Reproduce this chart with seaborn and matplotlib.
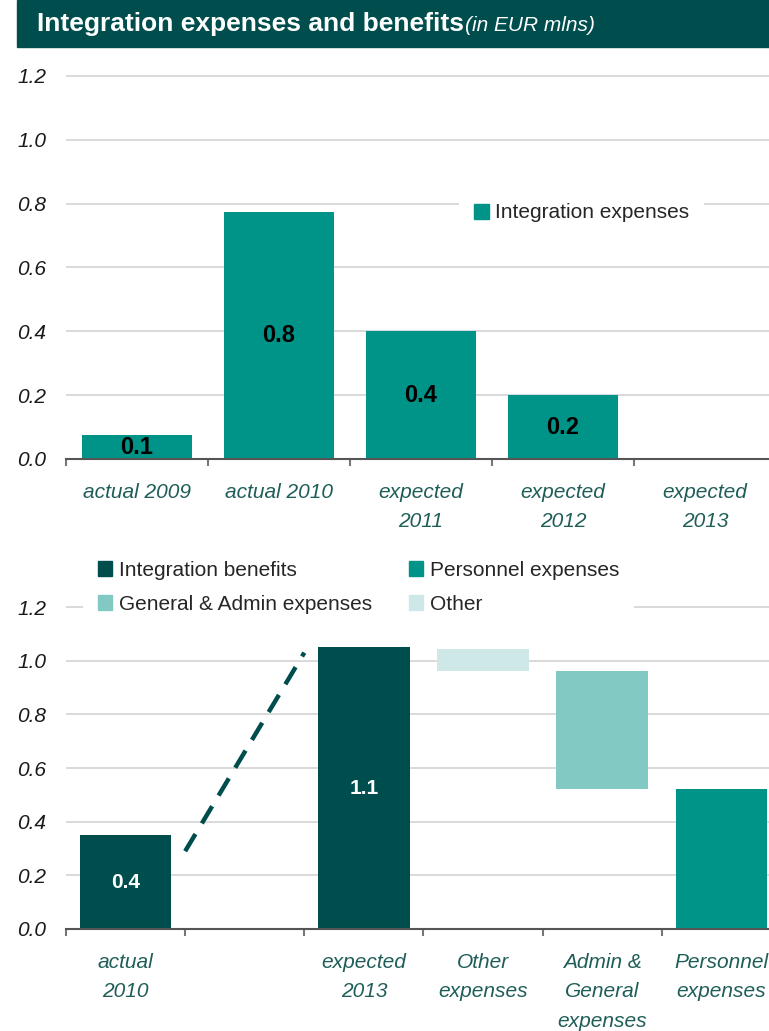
import numpy as np
import matplotlib
matplotlib.use("Agg")
import matplotlib.pyplot as plt
import matplotlib.patches as mpatches
import seaborn as sns

# ---------------- data ----------------
top_categories = ["actual 2009", "actual 2010", "expected\n2011", "expected\n2012", "expected\n2013"]
top_values = [0.075, 0.775, 0.40, 0.20, 0.0]
top_labels = ["0.1", "0.8", "0.4", "0.2", ""]
top_legend = "Integration expenses"

bottom_keys = ["actual 2010", "bridge", "expected 2013", "Other", "Admin", "Personnel"]
bottom_ticklabels = ["actual\n2010", "", "expected\n2013", "Other\nexpenses",
                     "Admin &\nGeneral\nexpenses", "Personnel\nexpenses"]
benefit_cats = ["actual 2010", "expected 2013"]
benefit_values = [0.35, 1.05]
benefit_labels = ["0.4", "1.1"]
other_base, other_value = 0.96, 0.085
admin_base, admin_value = 0.52, 0.44
personnel_value = 0.52
bridge_x = [0.5, 1.5]
bridge_y = [0.29, 1.03]
legend_names = ["Integration benefits", "General & Admin expenses", "Personnel expenses", "Other"]

y_ticks = [0.0, 0.2, 0.4, 0.6, 0.8, 1.0, 1.2]
y_ticklabels = ["0.0", "0.2", "0.4", "0.6", "0.8", "1.0", "1.2"]

title_main = "Integration expenses and benefits"
title_sub = "(in EUR mlns)"

# ---------------- style ----------------
DARK = "#004D4D"
TEAL = "#009388"
ADMIN = "#82C9C3"
OTHER = "#CEE8E7"
LABEL_COLOR = "#1F5E58"
GRID = "#CFCFCF"

sns.set_style("white")
plt.rcParams["font.family"] = ["Liberation Sans", "DejaVu Sans"]

W, H = 769, 1031
fig = plt.figure(figsize=(W / 100, H / 100), dpi=100)

ax1 = fig.add_axes([66 / W, (H - 459) / H, 710 / W, 399 / H])
ax2 = fig.add_axes([66 / W, (H - 929) / H, 715 / W, 335.4 / H])


def style_axes(ax, n, ticklabels):
    ax.set_xlim(-0.5, n - 0.5)
    ax.set_ylim(0, 1.25)
    ax.set_yticks(y_ticks)
    ax.set_yticklabels(y_ticklabels, fontstyle="italic", fontsize=15, color="#1a1a1a")
    ax.tick_params(axis="y", length=0, pad=14, left=False)
    ax.yaxis.grid(True, color=GRID, linewidth=1.1)
    ax.xaxis.grid(False)
    ax.set_axisbelow(True)
    ax.set_xticks(np.arange(n))
    ax.set_xticklabels(ticklabels, fontstyle="italic", fontsize=15, color=LABEL_COLOR,
                       linespacing=1.7)
    ax.tick_params(axis="x", which="major", length=0, pad=17)
    ax.set_xticks(np.arange(n + 1) - 0.5, minor=True)
    ax.tick_params(axis="x", which="minor", bottom=True, length=5, width=1.5,
                   color="#777777", direction="out")
    for s in ["top", "right", "left"]:
        ax.spines[s].set_visible(False)
    ax.spines["bottom"].set_color("#555555")
    ax.spines["bottom"].set_linewidth(1.5)
    ax.set_xlabel("")
    ax.set_ylabel("")


# ---------------- top chart ----------------
sns.barplot(x=top_categories, y=top_values, order=top_categories, color=TEAL,
            saturation=1, width=0.78, linewidth=0, ax=ax1)
for i, (v, lab) in enumerate(zip(top_values, top_labels)):
    if lab:
        ax1.text(i, v / 2, lab, ha="center", va="center", fontsize=17,
                 fontweight="bold", color="black")
style_axes(ax1, len(top_categories), top_categories)
leg1 = ax1.legend(handles=[mpatches.Patch(color=TEAL, label=top_legend)],
                  loc="upper left", bbox_to_anchor=(0.5535, 0.677), borderaxespad=0,
                  frameon=True, fontsize=15, handlelength=0.75, handleheight=0.75,
                  handletextpad=0.3, borderpad=0.7)
leg1.get_frame().set_facecolor("white")
leg1.get_frame().set_edgecolor("none")
leg1.get_frame().set_alpha(1)

# ---------------- bottom chart ----------------
sns.barplot(x=benefit_cats, y=benefit_values, order=bottom_keys, color=DARK,
            saturation=1, width=0.77, linewidth=0, ax=ax2)
sns.barplot(x=["Other"], y=[other_value], order=bottom_keys, color=OTHER,
            saturation=1, width=0.77, linewidth=0, bottom=other_base, ax=ax2)
sns.barplot(x=["Admin"], y=[admin_value], order=bottom_keys, color=ADMIN,
            saturation=1, width=0.77, linewidth=0, bottom=admin_base, ax=ax2)
sns.barplot(x=["Personnel"], y=[personnel_value], order=bottom_keys, color=TEAL,
            saturation=1, width=0.77, linewidth=0, ax=ax2)
for cat, v, lab in zip(benefit_cats, benefit_values, benefit_labels):
    ax2.text(bottom_keys.index(cat), v / 2, lab, ha="center", va="center", fontsize=15,
             fontweight="bold", color="white")
ax2.plot(bridge_x, bridge_y, color=DARK, linewidth=3.2, dashes=(4.5, 2.8),
         solid_capstyle="butt", dash_capstyle="butt")
style_axes(ax2, len(bottom_keys), bottom_ticklabels)
leg_colors = [DARK, ADMIN, TEAL, OTHER]
handles = [mpatches.Patch(color=c, label=n) for c, n in zip(leg_colors, legend_names)]
leg2 = ax2.legend(handles=handles, ncol=2, loc="upper left", bbox_to_anchor=(0.024, 1.142),
                  borderaxespad=0, frameon=True, fontsize=15, handlelength=0.7,
                  handleheight=0.7, handletextpad=0.3, borderpad=0.7, labelspacing=0.74,
                  columnspacing=1.78)
leg2.get_frame().set_facecolor("white")
leg2.get_frame().set_edgecolor("none")
leg2.get_frame().set_alpha(1)

# ---------------- title bar ----------------
fig.add_artist(mpatches.Rectangle((17 / W, 1 - 47 / H), 1 - 17 / W, 47 / H,
                                  transform=fig.transFigure, color=DARK, zorder=0))
t1 = fig.text(37 / W, 1 - 31 / H, title_main, color="white", fontsize=19,
              fontweight="bold", va="baseline", ha="left")
fig.canvas.draw()
bb = t1.get_window_extent(renderer=fig.canvas.get_renderer())
fig.text(bb.x1 / W + 1 / W, 1 - 31 / H, title_sub, color="white", fontsize=15,
         fontstyle="italic", va="baseline", ha="left")

fig.savefig("out.png", dpi=100)
